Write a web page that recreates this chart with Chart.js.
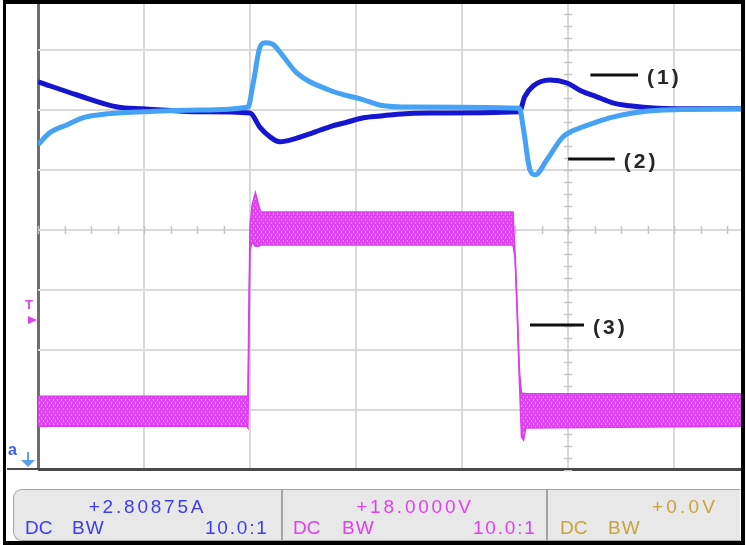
<!DOCTYPE html>
<html><head><meta charset="utf-8">
<script src="https://cdn.jsdelivr.net/npm/chart.js@4.4.0/dist/chart.umd.min.js"></script>
<style>
html,body{margin:0;padding:0;background:#fff;}
#wrap{position:relative;width:746px;height:545px;overflow:hidden;font-family:"Liberation Sans",Arial,sans-serif;}
#c{position:absolute;left:0;top:0;}
.abs{position:absolute;}
#frame{left:3px;top:0;width:742px;height:545px;box-sizing:border-box;border-left:3px solid #000;border-top:4px solid #000;border-right:4px solid #000;border-bottom:4px solid #000;}
#baseline{left:7px;top:468px;width:735px;height:2px;background:#4a4a4a;}
#panel{left:13px;top:489px;width:727px;height:52px;box-sizing:border-box;background:#e8e8e8;border:1.5px solid #a3a3a3;border-right:none;border-radius:9px 0 0 9px;}
.sep{top:489px;width:2px;height:52px;background:#a3a3a3;}
.t{position:absolute;font-size:19px;line-height:19px;white-space:nowrap;}
.r1{top:497px;letter-spacing:2.8px;}
.r2{top:518px;letter-spacing:1px;}
.blue{color:#3c3cf0;}
.mag{color:#e23ff0;}
.olv{color:#c9a23c;}
.ann{position:absolute;transform:translateY(-50%);font-size:21px;line-height:21px;letter-spacing:3px;color:#262626;font-weight:bold;white-space:nowrap;}
#trigT{left:25px;top:298px;font-size:13px;line-height:13px;font-weight:bold;color:#e23ff0;}
#trigA{left:28px;top:316px;width:0;height:0;border-left:9px solid #e23ff0;border-top:4.5px solid transparent;border-bottom:4.5px solid transparent;}
#gndA{left:8px;top:442px;font-size:16px;line-height:16px;font-weight:bold;color:#3a5ef0;}
#gndStem{left:27px;top:452px;width:2px;height:9px;background:#5a9ef0;}
#gndHead{left:21px;top:460px;width:0;height:0;border-top:7px solid #5a9ef0;border-left:7px solid transparent;border-right:7px solid transparent;}
</style></head><body>
<div id="wrap">
<canvas id="c" width="746" height="545"></canvas>
<div id="baseline" class="abs"></div>
<div id="panel" class="abs"></div>
<div class="abs sep" style="left:281px"></div>
<div class="abs sep" style="left:546px"></div>
<div class="t r1 blue" style="left:13px;width:269px;text-align:center;">+2.80875A</div>
<div class="t r2 blue" style="left:25px;letter-spacing:0">DC</div>
<div class="t r2 blue" style="left:72px">BW</div>
<div class="t r2 blue" style="left:205px;letter-spacing:1.8px">10.0:1</div>
<div class="t r1 mag" style="left:282px;width:266px;text-align:center;">+18.0000V</div>
<div class="t r2 mag" style="left:293px;letter-spacing:0">DC</div>
<div class="t r2 mag" style="left:342px">BW</div>
<div class="t r2 mag" style="left:473px;letter-spacing:1.8px">10.0:1</div>
<div class="t r1 olv" style="left:652px;letter-spacing:3.2px">+0.0V</div>
<div class="t r2 olv" style="left:560px;letter-spacing:0">DC</div>
<div class="t r2 olv" style="left:608px">BW</div>
<div id="ann0" class="ann">(1)</div>
<div id="ann1" class="ann">(2)</div>
<div id="ann2" class="ann">(3)</div>
<div id="trigT" class="abs">T</div>
<div id="trigA" class="abs"></div>
<div id="gndA" class="abs">a</div>
<div id="gndStem" class="abs"></div>
<div id="gndHead" class="abs"></div>
<div id="frame" class="abs"></div>
</div>
<script>
// Time axis in divisions, amplitudes in divisions
const timeCh1 = [0, 0.37, 0.75, 0.99, 1.53, 2.0, 2.09, 2.19, 2.28, 2.44, 2.59, 2.75, 2.92, 3.07, 3.23, 3.39, 3.70, 4.54, 4.59, 4.67, 4.83, 4.99, 5.11, 5.27, 5.42, 5.58, 5.84, 6.25, 6.64];
const ch1 = [2.47, 2.25, 2.05, 2.02, 1.97, 1.95, 1.72, 1.55, 1.47, 1.53, 1.62, 1.72, 1.80, 1.87, 1.90, 1.93, 1.95, 1.97, 2.22, 2.40, 2.50, 2.45, 2.33, 2.22, 2.12, 2.07, 2.03, 2.02, 2.02];

const timeCh2 = [0, 0.11, 0.27, 0.42, 0.58, 0.75, 0.99, 1.53, 1.98, 2.03, 2.09, 2.14, 2.21, 2.28, 2.44, 2.75, 3.07, 3.23, 3.51, 4.54, 4.58, 4.64, 4.69, 4.80, 4.95, 5.11, 5.27, 5.42, 5.61, 5.90, 6.64];
const ch2 = [1.42, 1.62, 1.75, 1.87, 1.92, 1.95, 1.97, 2.00, 2.05, 2.45, 3.03, 3.12, 3.10, 2.97, 2.62, 2.33, 2.17, 2.08, 2.05, 2.03, 1.67, 1.00, 0.92, 1.17, 1.55, 1.70, 1.80, 1.88, 1.95, 2.00, 2.02];

const timeCh3 = [0, 1.97, 1.98, 1.99, 2.0, 2.02, 2.05, 2.08, 2.10, 4.48, 4.50, 4.52, 4.54, 4.56, 4.58, 4.60, 6.64];
const ch3Top = [-2.77, -2.77, -2.77, -1.17, 0.08, 0.42, 0.62, 0.42, 0.30, 0.30, -0.42, -1.33, -2.33, -2.72, -2.72, -2.73, -2.73];
const ch3Bottom = [-3.27, -3.27, -3.30, -1.67, -0.33, -0.20, -0.27, -0.27, -0.25, -0.25, -0.47, -1.37, -2.50, -3.45, -3.50, -3.30, -3.27];

const annLabels = ['(1)', '(2)', '(3)'];
const annX0 = [5.21, 5.00, 4.64];
const annX1 = [5.66, 5.44, 5.15];
const annY = [2.58, 1.18, -1.58];

const pts = (xs, ys) => xs.map((x, i) => ({x: x, y: ys[i]}));

function makePattern(ctx) {
  const p = document.createElement('canvas'); p.width = 4; p.height = 6;
  const g = p.getContext('2d');
  g.fillStyle = '#e142f2'; g.fillRect(0, 0, 4, 6);
  g.fillStyle = '#eea0f7'; g.fillRect(3, 0, 1, 2); g.fillRect(1, 3, 1, 2);
  return ctx.createPattern(p, 'repeat');
}

const crossTicks = {
  id: 'crossTicks',
  beforeDatasetsDraw(chart) {
    const {ctx, scales: {x, y}} = chart;
    const cx = x.getPixelForValue(5), cy = y.getPixelForValue(0);
    ctx.save();
    ctx.strokeStyle = '#c4c4c4'; ctx.lineWidth = 1.5;
    ctx.beginPath();
    for (let k = 0; k * 0.25 <= x.max; k++) {
      const px = Math.round(x.getPixelForValue(k * 0.25)) + 0.5;
      ctx.moveTo(px, cy - 4); ctx.lineTo(px, cy + 4);
    }
    for (let k = -20; k * 0.2 <= y.max; k++) {
      const py = Math.round(y.getPixelForValue(k * 0.2)) + 0.5;
      ctx.moveTo(cx - 4, py); ctx.lineTo(cx + 4, py);
    }
    ctx.stroke();
    ctx.restore();
  }
};

const annot = {
  id: 'annot',
  afterDraw(chart) {
    const {ctx, scales: {x, y}} = chart;
    ctx.save();
    ctx.strokeStyle = '#111'; ctx.lineWidth = 3;
    annLabels.forEach((lab, i) => {
      const px0 = x.getPixelForValue(annX0[i]), px1 = x.getPixelForValue(annX1[i]);
      const py = Math.round(y.getPixelForValue(annY[i]));
      ctx.beginPath(); ctx.moveTo(px0, py); ctx.lineTo(px1, py); ctx.stroke();
      const el = document.getElementById('ann' + i);
      el.textContent = lab;
      el.style.left = (px1 + 9) + 'px';
      el.style.top = (py + 1) + 'px';
    });
    ctx.restore();
  }
};

const canvas = document.getElementById('c');
const ctx2d = canvas.getContext('2d');

const lineBase = {pointRadius: 0, cubicInterpolationMode: 'monotone', fill: false, clip: 0};

new Chart(canvas, {
  type: 'line',
  data: {
    datasets: [
      Object.assign({label: 'ch2', data: pts(timeCh2, ch2), borderColor: '#45a2f5', borderWidth: 5}, lineBase),
      Object.assign({label: 'ch1', data: pts(timeCh1, ch1), borderColor: '#1616d0', borderWidth: 5}, lineBase),
      {label: 'ch3top', data: pts(timeCh3, ch3Top), borderColor: '#dc3cef', borderWidth: 1.5, pointRadius: 0, tension: 0, fill: false, clip: 0},
      {label: 'ch3bot', data: pts(timeCh3, ch3Bottom), borderColor: '#dc3cef', borderWidth: 1.5, pointRadius: 0, tension: 0, fill: '-1', backgroundColor: makePattern(ctx2d), clip: 0}
    ]
  },
  options: {
    responsive: false, animation: false, devicePixelRatio: 1,
    layout: {padding: {left: 38, right: 4, top: 0, bottom: 75}},
    plugins: {legend: {display: false}, tooltip: {enabled: false}},
    scales: {
      x: {type: 'linear', min: 0, max: 6.64,
          ticks: {display: false, stepSize: 1, includeBounds: false},
          grid: {drawTicks: false, color: c => c.tick && c.tick.value === 0 ? '#6e6e6e' : '#d9d9d9', lineWidth: c => c.tick && c.tick.value === 0 ? 3 : 2},
          border: {display: false}},
      y: {type: 'linear', min: -4, max: 3.8333,
          ticks: {display: false, stepSize: 1, includeBounds: false},
          grid: {drawTicks: false, color: c => c.tick && c.tick.value === -4 ? '#4a4a4a' : '#d9d9d9', lineWidth: 2},
          border: {display: false}}
    }
  },
  plugins: [crossTicks, annot]
});
</script>
</body></html>
